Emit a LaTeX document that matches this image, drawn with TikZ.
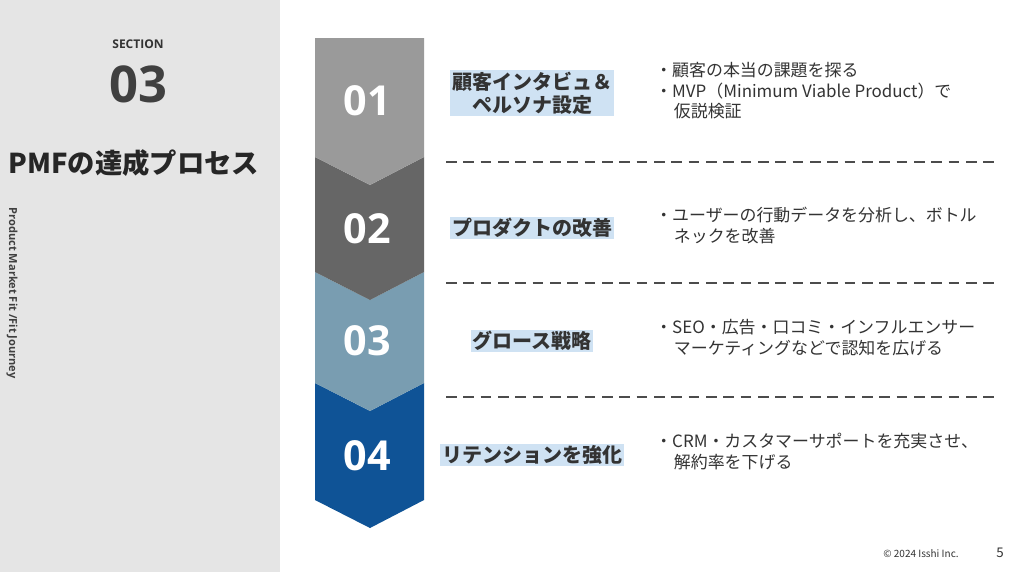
\documentclass[tikz,border=0pt]{standalone}
\usepackage{fontspec}
\setmainfont{Noto Sans CJK JP}
\newfontfamily\numf{Open Sans}
\definecolor{cA}{HTML}{9A9A9A}
\definecolor{cB}{HTML}{666666}
\definecolor{cC}{HTML}{799DB1}
\definecolor{cD}{HTML}{0F5396}
\definecolor{hl}{HTML}{CFE2F3}
\begin{document}
\begin{tikzpicture}[x=0.75pt,y=-0.75pt,
  num/.style={text=white,font=\numf\bfseries\fontsize{31}{31}\selectfont},
  lab/.style={fill=hl,inner sep=1.2pt,align=center,font=\bfseries\fontsize{15}{17}\selectfont,text=black!80},
  bul/.style={anchor=north west,align=left,font=\fontsize{12.7}{15.5}\selectfont,text=black!80,inner sep=0pt},
  sep/.style={dashed,dash pattern=on 8pt off 5pt,line width=1pt,draw=black!70}]
\useasboundingbox (0,0) rectangle (1024,572);
\fill[white] (0,0) rectangle (1024,572);
\fill[black!10] (0,0) rectangle (280,572);
\node (sec) at (138,44) {\numf\bfseries\fontsize{9}{9}\selectfont\textcolor{black!80}{SECTION}};
\node (big) at (138,84) {\numf\bfseries\fontsize{38}{38}\selectfont\textcolor{black!75}{03}};
\node[anchor=west] (title) at (4,163) {\bfseries\fontsize{20.5}{22}\selectfont\textcolor{black!85}{PMFの達成プロセス}};
\node[rotate=-90,anchor=west] (side) at (12,203) {\numf\bfseries\fontsize{8.3}{9}\selectfont\textcolor{black!75}{Product Market Fit /Fit Journey}};
\fill[cD] (315,383) -- (370,411) -- (424,383) -- (424,500) -- (370,528) -- (315,500) -- cycle;
\fill[cC] (315,272) -- (370,300) -- (424,272) -- (424,383) -- (370,411) -- (315,383) -- cycle;
\fill[cB] (315,157) -- (370,185) -- (424,157) -- (424,272) -- (370,300) -- (315,272) -- cycle;
\fill[cA] (315,38) -- (424,38) -- (424,157) -- (370,185) -- (315,157) -- cycle;
\node[num] (n1) at (367,101) {01};
\node[num] (n2) at (367,229) {02};
\node[num] (n3) at (367,341) {03};
\node[num] (n4) at (367,456) {04};
\node[lab] (l1) at (532,93) {顧客インタビュ＆\\ペルソナ設定};
\node[lab] (l2) at (532,228) {プロダクトの改善};
\node[lab] (l3) at (532,341) {グロース戦略};
\node[lab] (l4) at (532,455) {リテンションを強化};
\node[bul] (b1) at (655,62) {・顧客の本当の課題を探る\\・MVP（Minimum Viable Product）で\\\hspace{1.1em}仮説検証};
\node[bul] (b2) at (655,207) {・ユーザーの行動データを分析し、ボトル\\\hspace{1.1em}ネックを改善};
\node[bul] (b3) at (655,319) {・SEO・広告・口コミ・インフルエンサー\\\hspace{1.1em}マーケティングなどで認知を広げる};
\node[bul] (b4) at (655,433) {・CRM・カスタマーサポートを充実させ、\\\hspace{1.1em}解約率を下げる};
\coordinate (d1a) at (446,162); \coordinate (d1b) at (996,162);
\coordinate (d2a) at (446,283); \coordinate (d2b) at (996,283);
\coordinate (d3a) at (446,397); \coordinate (d3b) at (996,397);
\draw[sep] (d1a) -- (d1b);
\draw[sep] (d2a) -- (d2b);
\draw[sep] (d3a) -- (d3b);
\node (copy) at (921,554) {\fontsize{7.5}{8}\selectfont\textcolor{black!80}{© 2024 Isshi Inc.}};
\node (pg) at (1000,553) {\fontsize{10}{10}\selectfont\textcolor{black!80}{5}};
\end{tikzpicture}
\end{document}
